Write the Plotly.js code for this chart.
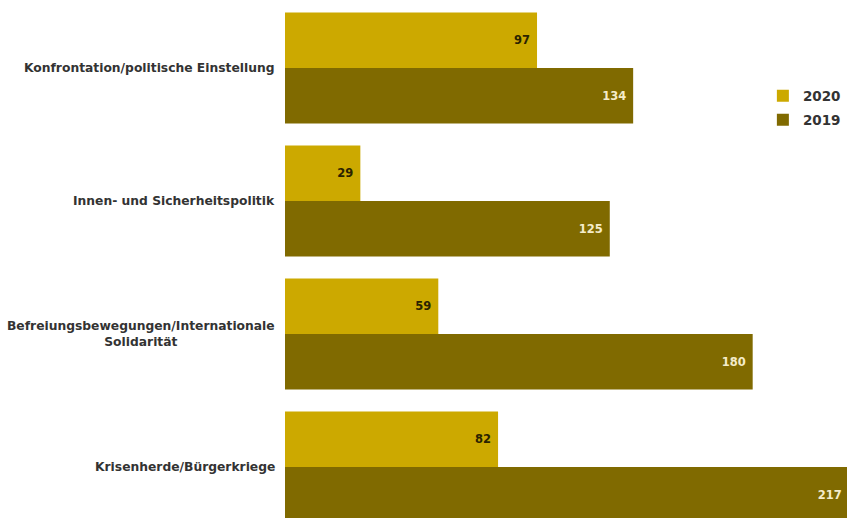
<!DOCTYPE html>
<html><head><meta charset="utf-8">
<script src="https://cdn.plot.ly/plotly-3.0.1.min.js"></script>
<style>html,body{margin:0;padding:0;background:#fff}#c{width:847px;height:518px}</style>
</head><body><div id="c"></div>
<script>
const categories = ["Konfrontation/politische Einstellung", "Innen- und Sicherheitspolitik", "Befreiungsbewegungen/Internationale<br>Solidarität", "Krisenherde/Bürgerkriege"];
const values2020 = [97, 29, 59, 82];
const values2019 = [134, 125, 180, 217];
const seriesNames = ["2020", "2019"];

const font = "DejaVu Sans, sans-serif";
const traces = [
  {type:"bar", orientation:"h", name:seriesNames[0], y:categories, x:values2020, legend:"legend",
   marker:{color:"#cca900"}, text:values2020.map(v=>v+"\u00a0"), textposition:"inside", insidetextanchor:"end",
   textfont:{family:font, size:11.5, color:"#2a2300", weight:700}, hoverinfo:"none"},
  {type:"bar", orientation:"h", name:seriesNames[1], y:categories, x:values2019, legend:"legend2",
   marker:{color:"#806a00"}, text:values2019.map(v=>v+"\u00a0"), textposition:"inside", insidetextanchor:"end",
   textfont:{family:font, size:11.5, color:"#f4ecca", weight:700}, hoverinfo:"none"}
];
const annotations = categories.map((c,i)=>({xref:"paper", yref:"y", x:0, y:c, xanchor:"right", xshift:-8,
  text:c, showarrow:false, align:"center", font:{family:font, size:12.3, color:"#333", weight:700}}));
const legFont = {family:font, size:13.5, color:"#333", weight:700};
const layout = {
  width:847, height:518, margin:{l:285, r:0, t:0, b:0},
  paper_bgcolor:"#fff", plot_bgcolor:"#fff",
  barmode:"group", bargap:0.165, bargroupgap:0,
  xaxis:{range:[0,216.3], showgrid:false, zeroline:false, showticklabels:false, showline:false, fixedrange:true},
  yaxis:{type:"category", range:[3.383,-0.511], showticklabels:false, showgrid:false, zeroline:false, showline:false, ticks:""},
  showlegend:true,
  legend:{x:0.998, y:1-96/518, xanchor:"right", yanchor:"middle", bgcolor:"rgba(0,0,0,0)", font:legFont},
  legend2:{x:0.998, y:1-120/518, xanchor:"right", yanchor:"middle", bgcolor:"rgba(0,0,0,0)", font:legFont},
  annotations:annotations
};
Plotly.newPlot("c", traces, layout, {staticPlot:true, displayModeBar:false});
</script></body></html>
